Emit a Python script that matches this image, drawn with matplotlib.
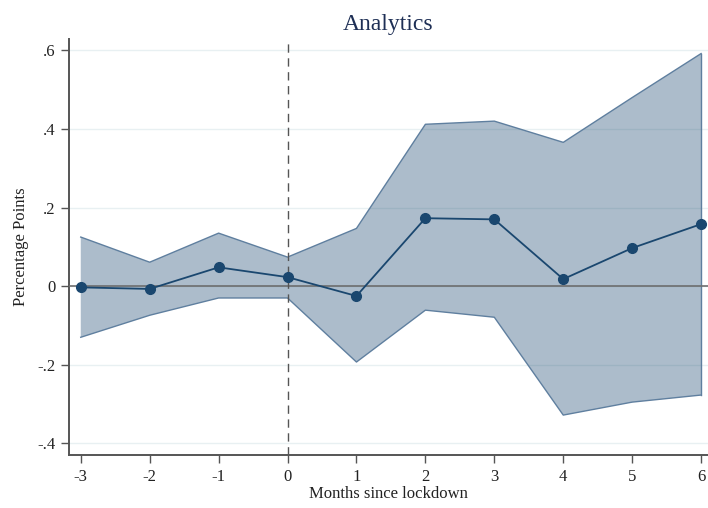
import matplotlib.pyplot as plt
from matplotlib.ticker import FixedLocator

# event-study estimates: months relative to lockdown
months = [-3, -2, -1, 0, 1, 2, 3, 4, 5, 6]
coef = [-0.003, -0.007, 0.048, 0.023, -0.025, 0.173, 0.170, 0.018, 0.097, 0.158]
ci_upper = [0.125, 0.061, 0.135, 0.074, 0.147, 0.412, 0.420, 0.366, 0.480, 0.592]
ci_lower = [-0.130, -0.074, -0.030, -0.030, -0.193, -0.061, -0.079, -0.328, -0.295, -0.277]

y_ticks = [-0.4, -0.2, 0, 0.2, 0.4, 0.6]
y_tick_labels = ['-.4', '-.2', '0', '.2', '.4', '.6']

navy = '#1a476f'
serif = ['Liberation Serif', 'DejaVu Serif']

fig = plt.figure(figsize=(7.08, 5.08), dpi=100)
ax = fig.add_axes([0.0975, 0.104, 0.9025, 0.82])

for y in y_ticks:
    ax.axhline(y, color='#e8f0f2', lw=1.0, zorder=0)

ax.fill_between(months, ci_lower, ci_upper, facecolor=navy, alpha=0.36,
                edgecolor='none', zorder=1)
ax.plot(months, ci_upper, color='#5f7f9f', lw=1.0, zorder=2)
ax.plot(months, ci_lower, color='#5f7f9f', lw=1.0, zorder=2)
ax.plot([months[-1], months[-1]], [ci_lower[-1], ci_upper[-1]], color='#5f7f9f', lw=1.0, zorder=2)

ax.axhline(0, color='#6e6e6e', lw=1.2, zorder=3)
ax.axvline(0, color='#555555', lw=1.0, ls=(0, (6, 4)), zorder=3)

ax.plot(months, coef, color=navy, lw=1.3, marker='o', ms=7, zorder=4)

ax.set_xlim(-3.17, 6.1)
ax.set_ylim(-0.43, 0.63)
ax.xaxis.set_major_locator(FixedLocator(months))
ax.set_xticklabels([str(m) for m in months])
ax.yaxis.set_major_locator(FixedLocator(y_ticks))
ax.set_yticklabels(y_tick_labels)

for side in ['top', 'right']:
    ax.spines[side].set_visible(False)
for side in ['left', 'bottom']:
    ax.spines[side].set_color('#555555')
    ax.spines[side].set_linewidth(1.4)
ax.tick_params(axis='both', direction='out', length=6, width=1.0, color='#555555',
               labelsize=12, labelcolor='#222222', pad=4)
for lab in ax.get_xticklabels() + ax.get_yticklabels():
    lab.set_family(serif)

ax.set_xlabel('Months since lockdown', family=serif, fontsize=12, color='#222222', labelpad=1)
ax.set_ylabel('Percentage Points', family=serif, fontsize=12, color='#222222', labelpad=6)
ax.set_title('Analytics', family=serif, fontsize=17, color='#1e2f55', pad=6)

fig.savefig('out.png', dpi=100)
